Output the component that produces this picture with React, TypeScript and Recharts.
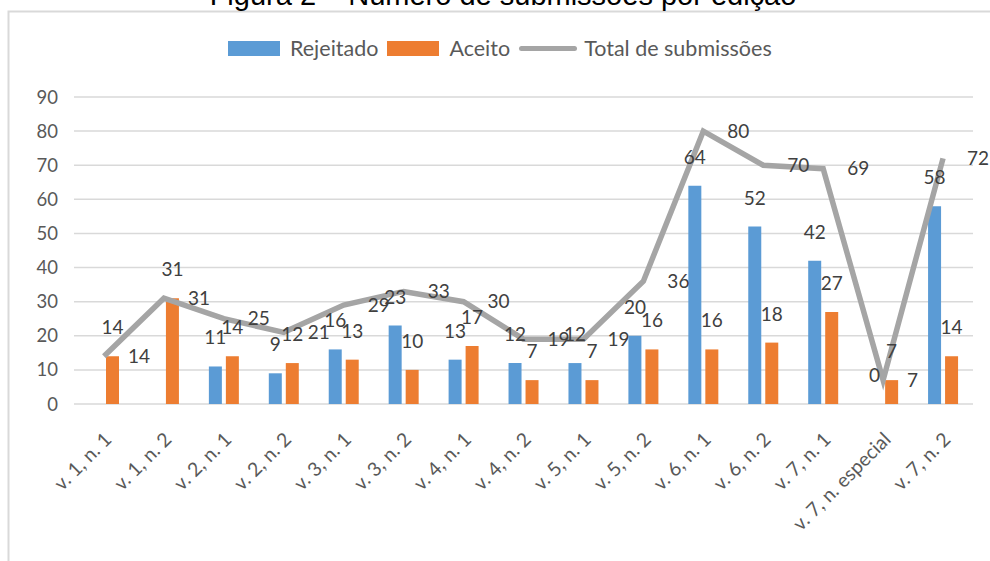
import {Bar, CartesianGrid, ComposedChart, LabelList, Line, XAxis, YAxis} from 'recharts';

const categories = [
    'v. 1, n. 1', 'v. 1, n. 2', 'v. 2, n. 1', 'v. 2, n. 2', 'v. 3, n. 1',
    'v. 3, n. 2', 'v. 4, n. 1', 'v. 4, n. 2', 'v. 5, n. 1', 'v. 5, n. 2',
    'v. 6, n. 1', 'v. 6, n. 2', 'v. 7, n. 1', 'v. 7, n. especial', 'v. 7, n. 2'
];
const rejeitado = [null, null, 11, 9, 16, 23, 13, 12, 12, 20, 64, 52, 42, 0, 58];
const aceito = [14, 31, 14, 12, 13, 10, 17, 7, 7, 16, 16, 18, 27, 7, 14];
const total = [14, 31, 25, 21, 29, 33, 30, 19, 19, 36, 80, 70, 69, 7, 72];
const yTicks = [0, 10, 20, 30, 40, 50, 60, 70, 80, 90];

const FONT = 'Lato, "Open Sans", sans-serif';
const BLUE = '#5b9bd5';
const ORANGE = '#ed7d31';
const GRAY = '#a5a5a5';

const data = categories.map((edicao, i) => ({
    edicao,
    rejeitado: rejeitado[i],
    aceito: aceito[i],
    total: total[i]
}));

const AngledTick = ({x, y, payload}: any) => (
    <g transform={`translate(${x + 4},${y + 24})`}>
        <text textAnchor="end" transform="rotate(-45)" dy="0.35em"
              fill="#595959" fontSize={19.5} fontFamily={FONT}>
            {payload.value}
        </text>
    </g>
);

const ChartLegend = () => {
    const items = [
        {name: 'Rejeitado', color: BLUE, type: 'rect'},
        {name: 'Aceito', color: ORANGE, type: 'rect'},
        {name: 'Total de submissões', color: GRAY, type: 'line'}
    ];
    return (
        <div style={{display: 'flex', alignItems: 'center', fontFamily: FONT, fontSize: 21.5, color: '#595959'}}>
            {items.map(item => (
                <div key={item.name} style={{display: 'flex', alignItems: 'center', marginRight: 9}}>
                    {item.type === 'rect'
                        ? <span style={{width: 52, height: 15, background: item.color, marginRight: 10}}/>
                        : <span style={{width: 58, height: 5, borderRadius: 3, background: item.color, marginRight: 7}}/>}
                    <span>{item.name}</span>
                </div>
            ))}
        </div>
    );
};

export default function App() {
    return (
        <div style={{position: 'absolute', left: 0, top: 0, width: 990, height: 561, background: '#fff', overflow: 'hidden'}}>
            <svg width={990} height={561} style={{position: 'absolute', left: 0, top: 0}}>
                <rect x={8.5} y={11.5} width={1000} height={600} fill="none" stroke="#d9d9d9" strokeWidth={2}/>
                <text x={503} y={5} textAnchor="middle" fontFamily='"Liberation Sans", Arial, sans-serif'
                      fontSize={29} fill="#000">
                    Figura 2 – Número de submissões por edição
                </text>
            </svg>
            <div style={{position: 'absolute', left: 228, top: 35}}>
                <ChartLegend/>
            </div>
            <div style={{position: 'absolute', left: 0, top: 0}}>
                <ComposedChart width={990} height={561} data={data}
                               margin={{top: 97, right: 17, left: 14, bottom: 17}}
                               barGap={4}>
                    <CartesianGrid vertical={false} stroke="#d9d9d9" strokeWidth={1.5}/>
                    <XAxis dataKey="edicao" interval={0} height={140} axisLine={false} tickLine={false}
                           tick={<AngledTick/>}/>
                    <YAxis domain={[0, 90]} ticks={yTicks} width={60} axisLine={false} tickLine={false}
                           tickSize={6} tickMargin={10}
                           tick={{fill: '#595959', fontSize: 18.5, fontFamily: FONT}}/>
                    <Bar dataKey="rejeitado" name="Rejeitado" fill={BLUE} barSize={13}
                         minPointSize={(v: any) => (v === 0 ? 0.01 : 0)} isAnimationActive={false}>
                        <LabelList dataKey="rejeitado" position="top" offset={22}
                                   fill="#404040" fontSize={19} fontFamily={FONT}/>
                    </Bar>
                    <Bar dataKey="aceito" name="Aceito" fill={ORANGE} barSize={13} isAnimationActive={false}>
                        <LabelList dataKey="aceito" position="top" offset={22}
                                   fill="#404040" fontSize={19} fontFamily={FONT}/>
                    </Bar>
                    <Line type="linear" dataKey="total" name="Total de submissões" stroke={GRAY}
                          strokeWidth={5.5} dot={false} isAnimationActive={false}>
                        <LabelList dataKey="total" position="right" offset={24}
                                   fill="#404040" fontSize={19} fontFamily={FONT}/>
                    </Line>
                </ComposedChart>
            </div>
        </div>
    );
}
